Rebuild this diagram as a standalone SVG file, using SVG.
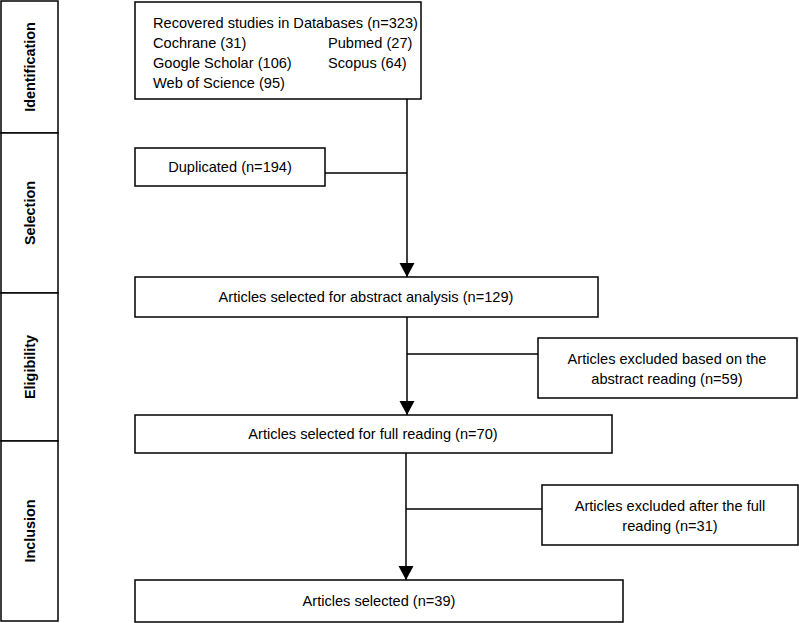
<svg xmlns="http://www.w3.org/2000/svg" width="799" height="623" viewBox="0 0 799 623">
<defs>
<style>
.b{fill:#fff;stroke:#000;stroke-width:1.5}
.t{font-family:"Liberation Sans",Arial,sans-serif;font-size:14.6px;fill:#000}
.c{text-anchor:middle}
.s{font-family:"Liberation Sans",Arial,sans-serif;font-size:14.4px;font-weight:bold;text-anchor:middle;fill:#000}
.l{stroke:#000;stroke-width:1.5;fill:none}
</style>
<marker id="ah" markerWidth="16" markerHeight="16" refX="14" refY="7.5" orient="auto" markerUnits="userSpaceOnUse">
<path d="M0,0 L14,7.5 L0,15 Z" fill="#000"/>
</marker>
</defs>
<rect width="799" height="623" fill="#fff"/>
<g id="stages">
<g id="identification"><rect class="b" x="1" y="1" width="57" height="132"/><text class="s" transform="translate(35,67) rotate(-90)">Identification</text></g>
<g id="selection"><rect class="b" x="1" y="133" width="57" height="160"/><text class="s" transform="translate(35,213) rotate(-90)">Selection</text></g>
<g id="eligibility"><rect class="b" x="1" y="293" width="57" height="148"/><text class="s" transform="translate(35,367) rotate(-90)">Eligibility</text></g>
<g id="inclusion"><rect class="b" x="1" y="441" width="57" height="180"/><text class="s" transform="translate(35,531) rotate(-90)">Inclusion</text></g>
</g>
<g id="connectors">
<line class="l" x1="407" y1="99" x2="407" y2="277" marker-end="url(#ah)"/>
<line class="l" x1="325" y1="173" x2="407" y2="173"/>
<line class="l" x1="407" y1="317" x2="407" y2="415" marker-end="url(#ah)"/>
<line class="l" x1="407" y1="354" x2="538" y2="354"/>
<line class="l" x1="406" y1="453" x2="406" y2="580" marker-end="url(#ah)"/>
<line class="l" x1="406" y1="509" x2="542" y2="509"/>
</g>
<g id="recovered"><rect class="b" x="135" y="2" width="286" height="97"/>
<text class="t" x="153" y="28">Recovered studies in Databases (n=323)</text>
<text class="t" x="153" y="48">Cochrane (31)</text><text class="t" x="328" y="48">Pubmed (27)</text>
<text class="t" x="153" y="68">Google Scholar (106)</text><text class="t" x="328" y="68">Scopus (64)</text>
<text class="t" x="153" y="88">Web of Science (95)</text></g>
<g id="duplicated"><rect class="b" x="135" y="148" width="190" height="38"/><text class="t c" x="230" y="172">Duplicated (n=194)</text></g>
<g id="abstract"><rect class="b" x="135" y="277" width="463" height="40"/><text class="t c" x="366" y="302">Articles selected for abstract analysis (n=129)</text></g>
<g id="excluded-abstract"><rect class="b" x="538" y="338" width="259" height="60"/><text class="t c" x="667" y="364">Articles excluded based on the</text><text class="t c" x="667" y="384">abstract reading (n=59)</text></g>
<g id="full"><rect class="b" x="135" y="415" width="477" height="38"/><text class="t c" x="373" y="439">Articles selected for full reading (n=70)</text></g>
<g id="excluded-full"><rect class="b" x="542" y="485" width="256" height="60"/><text class="t c" x="670" y="511">Articles excluded after the full</text><text class="t c" x="670" y="531">reading (n=31)</text></g>
<g id="selected"><rect class="b" x="135" y="580" width="488" height="42"/><text class="t c" x="379" y="606">Articles selected (n=39)</text></g>
</svg>
